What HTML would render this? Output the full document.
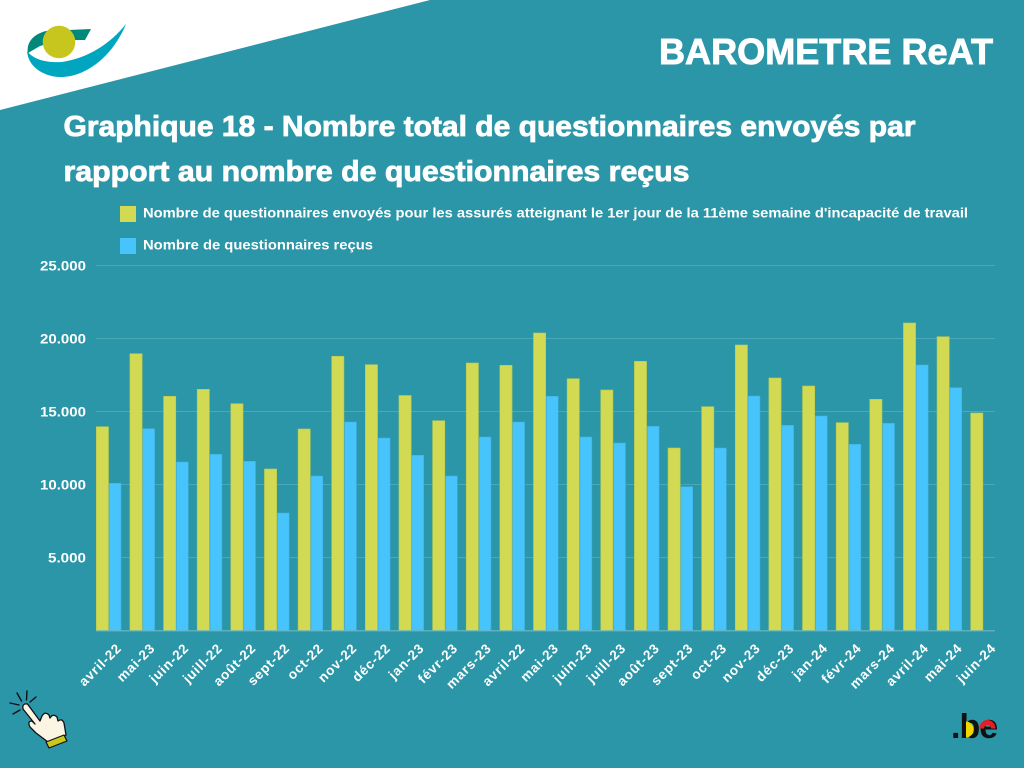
<!DOCTYPE html>
<html>
<head>
<meta charset="utf-8">
<style>
html,body{margin:0;padding:0;background:#2b96a8;}
svg{display:block;}
text{font-family:"Liberation Sans",Arial,sans-serif;}
</style>
</head>
<body>
<svg width="1024" height="768" viewBox="0 0 1024 768" xmlns="http://www.w3.org/2000/svg">
<rect x="0" y="0" width="1024" height="768" fill="#2b96a8"/>
<!-- white corner -->
<polygon points="0,0 430,0 0,110" fill="#ffffff"/>
<!-- logo -->
<path d="M28,53 C26,42 34,34 46,31 L91,29 L85,40 L60,40 L40,46 Z" fill="#00897b"/>
<path d="M27,51 C28,66 42,76 59,77 C84,78 112,58 126,24 C110,44 88,58 62,62 C45,63 33,59 27,51 Z" fill="#00a5c0"/>
<circle cx="59" cy="42" r="16.3" fill="#c6c61e"/>

<!-- header text -->
<text x="659" y="64" font-size="36" font-weight="bold" fill="#ffffff" stroke="#ffffff" stroke-width="0.9" textLength="334" lengthAdjust="spacingAndGlyphs">BAROMETRE ReAT</text>
<text x="63.5" y="136" font-size="29" font-weight="bold" fill="#ffffff" stroke="#ffffff" stroke-width="0.8" textLength="852" lengthAdjust="spacingAndGlyphs">Graphique 18 - Nombre total de questionnaires envoyés par</text>
<text x="63.5" y="181" font-size="29" font-weight="bold" fill="#ffffff" stroke="#ffffff" stroke-width="0.8" textLength="626" lengthAdjust="spacingAndGlyphs">rapport au nombre de questionnaires reçus</text>

<!-- legend -->
<rect x="120" y="206" width="16" height="16" fill="#d1da52"/>
<text x="143" y="217.5" font-size="13.5" font-weight="bold" fill="#ffffff" textLength="825" lengthAdjust="spacingAndGlyphs">Nombre de questionnaires envoyés pour les assurés atteignant le 1er jour de la 11ème semaine d'incapacité de travail</text>
<rect x="120" y="238" width="16" height="16" fill="#48c4fd"/>
<text x="143" y="249.5" font-size="13.5" font-weight="bold" fill="#ffffff" textLength="230" lengthAdjust="spacingAndGlyphs">Nombre de questionnaires reçus</text>

<!-- gridlines -->
<g stroke="#4aa8b8" stroke-width="1">
<line x1="96" y1="265.5" x2="995" y2="265.5"/>
<line x1="96" y1="338.5" x2="995" y2="338.5"/>
<line x1="96" y1="411.5" x2="995" y2="411.5"/>
<line x1="96" y1="484.5" x2="995" y2="484.5"/>
<line x1="96" y1="557.5" x2="995" y2="557.5"/>
</g>

<!-- y labels -->
<g font-size="13.5" font-weight="bold" fill="#ffffff" text-anchor="end">
<text x="86" y="270.5" textLength="46" lengthAdjust="spacingAndGlyphs">25.000</text>
<text x="86" y="343.5" textLength="46" lengthAdjust="spacingAndGlyphs">20.000</text>
<text x="86" y="416.5" textLength="46" lengthAdjust="spacingAndGlyphs">15.000</text>
<text x="86" y="489.5" textLength="46" lengthAdjust="spacingAndGlyphs">10.000</text>
<text x="86" y="562.5" textLength="38" lengthAdjust="spacingAndGlyphs">5.000</text>
</g>

<!-- yellow bars -->
<g fill="#d1da52" stroke="#b9c84c" stroke-width="0.6">
<rect x="96.3" y="426.7" width="12.2" height="203.8"/>
<rect x="129.93" y="353.7" width="12.2" height="276.8"/>
<rect x="163.56" y="396.3" width="12.2" height="234.2"/>
<rect x="197.19" y="389.3" width="12.2" height="241.2"/>
<rect x="230.82" y="403.7" width="12.2" height="226.8"/>
<rect x="264.45" y="469" width="12.2" height="161.5"/>
<rect x="298.08" y="429" width="12.2" height="201.5"/>
<rect x="331.71" y="356.3" width="12.2" height="274.2"/>
<rect x="365.34" y="364.7" width="12.2" height="265.8"/>
<rect x="398.97" y="395.5" width="12.2" height="235"/>
<rect x="432.6" y="420.7" width="12.2" height="209.8"/>
<rect x="466.23" y="363" width="12.2" height="267.5"/>
<rect x="499.86" y="365.3" width="12.2" height="265.2"/>
<rect x="533.49" y="333" width="12.2" height="297.5"/>
<rect x="567.12" y="378.7" width="12.2" height="251.8"/>
<rect x="600.75" y="390" width="12.2" height="240.5"/>
<rect x="634.38" y="361.3" width="12.2" height="269.2"/>
<rect x="668.01" y="448" width="12.2" height="182.5"/>
<rect x="701.64" y="406.7" width="12.2" height="223.8"/>
<rect x="735.27" y="345" width="12.2" height="285.5"/>
<rect x="768.9" y="378" width="12.2" height="252.5"/>
<rect x="802.53" y="386" width="12.2" height="244.5"/>
<rect x="836.16" y="422.7" width="12.2" height="207.8"/>
<rect x="869.79" y="399.3" width="12.2" height="231.2"/>
<rect x="903.42" y="323" width="12.2" height="307.5"/>
<rect x="937.05" y="336.7" width="12.2" height="293.8"/>
<rect x="970.68" y="413" width="12.2" height="217.5"/>
</g>

<!-- blue bars -->
<g fill="#48c4fd" stroke="#3fb0e0" stroke-width="0.6">
<rect x="109.2" y="483.3" width="11.8" height="147.2"/>
<rect x="142.83" y="428.7" width="11.8" height="201.8"/>
<rect x="176.46" y="462" width="11.8" height="168.5"/>
<rect x="210.09" y="454.3" width="11.8" height="176.2"/>
<rect x="243.72" y="461.3" width="11.8" height="169.2"/>
<rect x="277.35" y="513" width="11.8" height="117.5"/>
<rect x="310.98" y="476" width="11.8" height="154.5"/>
<rect x="344.61" y="422" width="11.8" height="208.5"/>
<rect x="378.24" y="438" width="11.8" height="192.5"/>
<rect x="411.87" y="455.3" width="11.8" height="175.2"/>
<rect x="445.5" y="476" width="11.8" height="154.5"/>
<rect x="479.13" y="437" width="11.8" height="193.5"/>
<rect x="512.76" y="422" width="11.8" height="208.5"/>
<rect x="546.39" y="396.3" width="11.8" height="234.2"/>
<rect x="580.02" y="437" width="11.8" height="193.5"/>
<rect x="613.65" y="443" width="11.8" height="187.5"/>
<rect x="647.28" y="426.3" width="11.8" height="204.2"/>
<rect x="680.91" y="486.7" width="11.8" height="143.8"/>
<rect x="714.54" y="448" width="11.8" height="182.5"/>
<rect x="748.17" y="396" width="11.8" height="234.5"/>
<rect x="781.8" y="425.3" width="11.8" height="205.2"/>
<rect x="815.43" y="416" width="11.8" height="214.5"/>
<rect x="849.06" y="444.3" width="11.8" height="186.2"/>
<rect x="882.69" y="423.3" width="11.8" height="207.2"/>
<rect x="916.32" y="365" width="11.8" height="265.5"/>
<rect x="949.95" y="387.7" width="11.8" height="242.8"/>
</g>

<!-- axis line -->
<line x1="96" y1="630.8" x2="995" y2="630.8" stroke="#6cb8c4" stroke-width="1.2"/>

<!-- x labels -->
<g font-size="13.5" font-weight="bold" fill="#ffffff" text-anchor="end" letter-spacing="0.8">
<text transform="translate(122.3,649) rotate(-45)">avril-22</text>
<text transform="translate(155.9,649) rotate(-45)">mai-23</text>
<text transform="translate(189.6,649) rotate(-45)">juin-22</text>
<text transform="translate(223.2,649) rotate(-45)">juill-22</text>
<text transform="translate(256.8,649) rotate(-45)">août-22</text>
<text transform="translate(290.5,649) rotate(-45)">sept-22</text>
<text transform="translate(324.1,649) rotate(-45)">oct-22</text>
<text transform="translate(357.7,649) rotate(-45)">nov-22</text>
<text transform="translate(391.3,649) rotate(-45)">déc-22</text>
<text transform="translate(425,649) rotate(-45)">jan-23</text>
<text transform="translate(458.6,649) rotate(-45)">févr-23</text>
<text transform="translate(492.2,649) rotate(-45)">mars-23</text>
<text transform="translate(525.9,649) rotate(-45)">avril-22</text>
<text transform="translate(559.5,649) rotate(-45)">mai-23</text>
<text transform="translate(593.1,649) rotate(-45)">juin-23</text>
<text transform="translate(626.8,649) rotate(-45)">juill-23</text>
<text transform="translate(660.4,649) rotate(-45)">août-23</text>
<text transform="translate(694,649) rotate(-45)">sept-23</text>
<text transform="translate(727.6,649) rotate(-45)">oct-23</text>
<text transform="translate(761.3,649) rotate(-45)">nov-23</text>
<text transform="translate(794.9,649) rotate(-45)">déc-23</text>
<text transform="translate(828.5,649) rotate(-45)">jan-24</text>
<text transform="translate(862.2,649) rotate(-45)">févr-24</text>
<text transform="translate(895.8,649) rotate(-45)">mars-24</text>
<text transform="translate(929.4,649) rotate(-45)">avril-24</text>
<text transform="translate(963,649) rotate(-45)">mai-24</text>
<text transform="translate(996.7,649) rotate(-45)">juin-24</text>
</g>

<!-- hand icon -->
<g stroke="#111111" stroke-width="1.4" stroke-linecap="round">
<line x1="17" y1="693" x2="21.5" y2="701"/>
<line x1="27" y1="691" x2="26.5" y2="700"/>
<line x1="36" y1="697" x2="30" y2="702"/>
<line x1="10" y1="703" x2="19" y2="705"/>
<line x1="13" y1="714" x2="20" y2="710"/>
</g>
<path d="M23,709 Q22,703 27.5,704 L40,721 L42,716 Q45,711 49,715 L50,718 Q53,713 57,717 L58,721 Q62,718 64,723 L66,735 L58,740 L48,742 L36,733 L30,727 Q27,721 32,721 L35,724 Z" fill="#fdf5e4" stroke="#111111" stroke-width="1.3" stroke-linejoin="round"/>
<polygon points="46,742 64,735 67,741 49,748" fill="#c8c81e" stroke="#111111" stroke-width="1.2" stroke-linejoin="round"/>

<!-- .be logo -->
<text x="951" y="738" font-size="34" font-weight="bold" fill="#111111" letter-spacing="-1">.be</text>
<path d="M966,721.5 A7.5,8 0 0 1 966,737.5 Z" fill="#f2d600"/>
<path d="M979.5,728.5 A8,8.5 0 0 1 995.5,728.5 L991,728.5 A3.5,3.5 0 0 0 984,728.5 Z" fill="#e31e24"/>
</svg>
</body>
</html>
